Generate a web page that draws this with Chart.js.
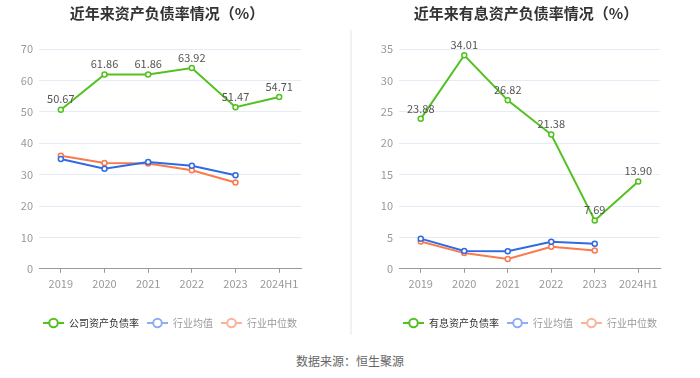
<!DOCTYPE html>
<html>
<head>
<meta charset="utf-8">
<script src="https://cdn.jsdelivr.net/npm/chart.js@4.4.0/dist/chart.umd.min.js"></script>
<style>
  html, body { margin: 0; padding: 0; background: #ffffff; }
  body { width: 700px; height: 378px; position: relative; overflow: hidden; font-family: "Noto Sans CJK SC", "Noto Sans", sans-serif; }
  .box { position: absolute; top: 0; width: 350px; height: 340px; }
  #sep { position: absolute; left: 350px; top: 30px; width: 2px; height: 305px; background: #f2f2f2; }
  #src { position: absolute; left: 0; width: 700px; top: 352px; text-align: center; font-size: 12px; color: #666; }
</style>
</head>
<body>
<div class="box" style="left:0"><canvas id="c1" width="350" height="340"></canvas></div>
<div class="box" style="left:350px"><canvas id="c2" width="350" height="340"></canvas></div>
<div id="sep"></div>
<div id="src">数据来源：恒生聚源</div>
<script>
const categories = ['2019', '2020', '2021', '2022', '2023', '2024H1'];

const leftTitle = '近年来资产负债率情况（%）';
const leftCompanyName = '公司资产负债率';
const leftCompany = [50.67, 61.86, 61.86, 63.92, 51.47, 54.71];
const leftIndustryAvg = [35.0, 31.9, 34.0, 32.8, 29.8, null];
const leftIndustryMedian = [36.0, 33.7, 33.5, 31.4, 27.5, null];
const leftTicks = [0, 10, 20, 30, 40, 50, 60, 70];

const rightTitle = '近年来有息资产负债率情况（%）';
const rightCompanyName = '有息资产负债率';
const rightCompany = [23.88, 34.01, 26.82, 21.38, 7.69, 13.90];
const rightIndustryAvg = [4.8, 2.85, 2.8, 4.3, 4.0, null];
const rightIndustryMedian = [4.35, 2.5, 1.55, 3.5, 2.9, null];
const rightTicks = [0, 5, 10, 15, 20, 25, 30, 35];

const avgName = '行业均值';
const medName = '行业中位数';

const FONT = '"Noto Sans CJK SC", "Noto Sans", sans-serif';
const GREEN = '#52c11f';
const BLUE = '#2f6ae6';
const ORANGE = '#fa7a4c';

function makeIcon(color) {
  const c = document.createElement('canvas');
  c.width = 21; c.height = 12;
  const g = c.getContext('2d');
  g.strokeStyle = color; g.lineWidth = 2;
  g.beginPath(); g.moveTo(0, 6); g.lineTo(21, 6); g.stroke();
  g.beginPath(); g.arc(10.5, 6, 4.3, 0, Math.PI * 2);
  g.fillStyle = '#fff'; g.fill(); g.stroke();
  return c;
}

const labelPlugin = {
  id: 'valueLabels',
  afterDatasetsDraw(chart) {
    const ctx = chart.ctx;
    const meta = chart.getDatasetMeta(0);
    const data = chart.data.datasets[0].data;
    ctx.save();
    ctx.font = '11px ' + FONT;
    ctx.fillStyle = '#555';
    ctx.textAlign = 'center';
    ctx.textBaseline = 'bottom';
    meta.data.forEach((pt, i) => {
      if (data[i] == null) return;
      ctx.fillText(data[i].toFixed(2), pt.x, pt.y - 5);
    });
    ctx.restore();
  }
};

const titlePlugin = {
  id: 'fixedTitle',
  afterDraw(chart, args, opts) {
    const ctx = chart.ctx;
    ctx.save();
    ctx.font = 'bold 15px ' + FONT;
    ctx.fillStyle = '#333';
    ctx.textAlign = 'center';
    ctx.textBaseline = 'middle';
    ctx.fillText(opts.text, opts.x, 13);
    ctx.restore();
  }
};

function makeChart(id, title, titleX, compName, comp, avg, med, ticks, pad, leftW, rightW) {
  const icons = [makeIcon(GREEN), makeIcon('#8eaef2'), makeIcon('#f9b39b')];
  const colors = ['#333', '#999', '#999'];
  const tmax = ticks[ticks.length - 1];
  const step = ticks[1] - ticks[0];
  const ds = (label, data, color) => ({
    label, data, borderColor: color, backgroundColor: '#fff',
    borderWidth: 2, pointRadius: 2.5, pointBorderWidth: 1.5,
    pointBackgroundColor: '#fff', pointBorderColor: color, tension: 0, spanGaps: false
  });
  return new Chart(document.getElementById(id), {
    type: 'line',
    data: {
      labels: categories,
      datasets: [ds(compName, comp, GREEN), ds(avgName, avg, BLUE), ds(medName, med, ORANGE)]
    },
    options: {
      responsive: false,
      animation: false,
      layout: { padding: { left: pad[0], right: pad[1], top: 49, bottom: 2 } },
      plugins: {
        fixedTitle: { text: title, x: titleX },
        title: { display: false },
        legend: {
          position: 'bottom',
          labels: {
            usePointStyle: true, pointStyleWidth: 21, boxHeight: 12,
            padding: 8,
            font: { family: FONT, size: 10 },
            generateLabels(chart) {
              return chart.data.datasets.map((d, i) => ({
                text: d.label, datasetIndex: i, hidden: false,
                pointStyle: icons[i], fontColor: colors[i],
                fillStyle: 'transparent', strokeStyle: 'transparent', lineWidth: 0
              }));
            }
          },
          onClick: null
        },
        tooltip: { enabled: false }
      },
      scales: {
        x: {
          offset: true,
          afterFit(scale) { scale.height += 16; },
          grid: { display: true, drawOnChartArea: false, drawTicks: true, tickLength: 4, color: '#999', offset: false },
          border: { display: true, color: '#999' },
          ticks: { color: '#999', font: { family: FONT, size: 11 }, padding: 4, maxRotation: 0 }
        },
        y: {
          min: 0, max: tmax,
          afterFit(scale) { scale.width = leftW; },
          grid: { color: '#e6ebf5', drawTicks: false },
          border: { display: false },
          ticks: { stepSize: step, color: '#999', font: { family: FONT, size: 11 }, padding: 6 }
        },
        yr: {
          position: 'right', min: 0, max: tmax,
          afterFit(scale) { scale.width = rightW; },
          grid: { display: false, drawTicks: false },
          border: { display: false },
          ticks: { display: false }
        }
      }
    },
    plugins: [labelPlugin, titlePlugin]
  });
}

makeChart('c1', leftTitle, 167, leftCompanyName, leftCompany, leftIndustryAvg, leftIndustryMedian, leftTicks, [0, 10], 39, 39);
makeChart('c2', rightTitle, 176, rightCompanyName, rightCompany, rightIndustryAvg, rightIndustryMedian, rightTicks, [10, 0], 39, 40);
</script>
</body>
</html>
